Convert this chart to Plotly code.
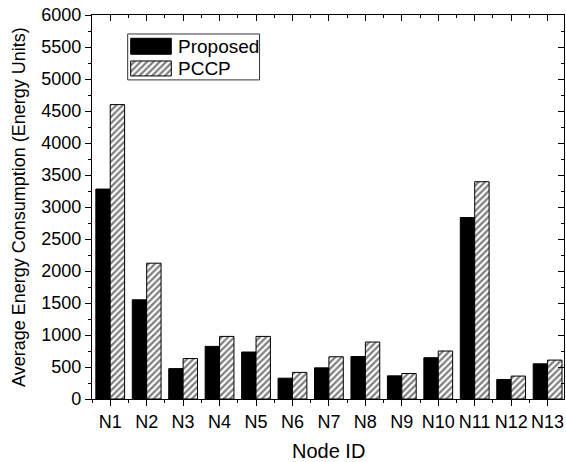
import plotly.graph_objects as go

# Per-node average energy consumption
nodes = ["N1", "N2", "N3", "N4", "N5", "N6", "N7", "N8", "N9", "N10", "N11", "N12", "N13"]
proposed = [3280, 1550, 475, 822, 734, 325, 487, 664, 362, 645, 2835, 305, 550]
pccp = [4600, 2122, 632, 978, 978, 416, 660, 890, 398, 750, 3395, 358, 608]

series_names = ["Proposed", "PCCP"]

FONT = "Liberation Sans, Arial, sans-serif"
positions = list(range(len(nodes)))
x_range = [-0.5, 12.45]
y_range = [0, 6000]
hatch = dict(shape="/", fgcolor="black", bgcolor="white", size=4.5, solidity=0.5)

fig = go.Figure()

fig.add_trace(go.Bar(
    x=positions, y=proposed, name=series_names[0],
    marker=dict(color="black", line=dict(color="black", width=1)),
    showlegend=False,
))
fig.add_trace(go.Bar(
    x=positions, y=pccp, name=series_names[1],
    marker=dict(color="white", line=dict(color="black", width=1), pattern=hatch),
    showlegend=False,
))

# empty trace so the mirrored top/right axes get drawn
fig.add_trace(go.Scatter(x=[], y=[], xaxis="x2", yaxis="y2", showlegend=False))

# hand-drawn legend on a unit overlay axis
sw_x0, sw_x1 = 0.082, 0.168
fig.add_trace(go.Scatter(
    x=[sw_x0, sw_x1, sw_x1, sw_x0, sw_x0], y=[0.8977, 0.8977, 0.9394, 0.9394, 0.8977],
    xaxis="x3", yaxis="y3", mode="lines", fill="toself", fillcolor="black",
    line=dict(color="black", width=1), showlegend=False, hoverinfo="skip",
))
fig.add_trace(go.Scatter(
    x=[sw_x0, sw_x1, sw_x1, sw_x0, sw_x0], y=[0.8413, 0.8413, 0.8803, 0.8803, 0.8413],
    xaxis="x3", yaxis="y3", mode="lines", fill="toself", fillcolor="white",
    fillpattern=hatch,
    line=dict(color="black", width=1), showlegend=False, hoverinfo="skip",
))

fig.add_shape(type="rect", xref="x3", yref="y3", x0=0.0756, x1=0.355, y0=0.831, y1=0.9506,
              line=dict(color="#333333", width=1), fillcolor="rgba(0,0,0,0)", layer="above")
for name, yc in zip(series_names, [0.9185, 0.8608]):
    fig.add_annotation(xref="x3", yref="y3", x=0.178, y=yc, text=name, showarrow=False,
                       xanchor="left", yanchor="middle",
                       font=dict(family=FONT, size=19, color="black"))

axis_common = dict(showgrid=False, zeroline=False, showline=True, linecolor="black",
                   linewidth=1.2, tickcolor="black", tickwidth=1.2)

fig.update_layout(
    width=566, height=462,
    margin=dict(l=92, r=2, t=15, b=63),
    paper_bgcolor="white", plot_bgcolor="white",
    barmode="group", bargap=0.21, bargroupgap=0,
    font=dict(family=FONT, size=18, color="black"),
    xaxis=dict(**axis_common, range=x_range, tickmode="array", tickvals=positions,
               ticktext=nodes, ticks="outside", ticklen=6,
               minor=dict(tickmode="linear", tick0=0.5, dtick=1, ticks="outside",
                          ticklen=3, tickcolor="black", tickwidth=1.2),
               tickfont=dict(family=FONT, size=18)),
    yaxis=dict(**axis_common, range=y_range, dtick=500, ticks="outside", ticklen=6,
               minor=dict(dtick=250, ticks="outside", ticklen=3,
                          tickcolor="black", tickwidth=1.2),
               tickfont=dict(family=FONT, size=18)),
    xaxis2=dict(**axis_common, overlaying="x", side="top", anchor="y2", range=x_range,
                tickmode="array", tickvals=positions, showticklabels=False,
                ticks="inside", ticklen=6,
                minor=dict(tickmode="linear", tick0=0.5, dtick=1, ticks="inside",
                           ticklen=3, tickcolor="black", tickwidth=1.2)),
    yaxis2=dict(**axis_common, overlaying="y", side="right", anchor="x2", range=y_range,
                dtick=500, showticklabels=False, ticks="inside", ticklen=6,
                minor=dict(dtick=250, ticks="inside", ticklen=3,
                           tickcolor="black", tickwidth=1.2)),
    xaxis3=dict(overlaying="x", range=[0, 1], visible=False, fixedrange=True),
    yaxis3=dict(overlaying="y", range=[0, 1], visible=False, fixedrange=True, anchor="x3"),
    showlegend=False,
)

fig.add_annotation(xref="paper", yref="paper", x=0.5, y=-0.1345, text="Node ID",
                   showarrow=False, xanchor="center", yanchor="middle",
                   font=dict(family=FONT, size=20))
fig.add_annotation(xref="paper", yref="paper", x=-0.1547, y=0.5,
                   text="Average Energy Consumption (Energy Units)", textangle=-90,
                   showarrow=False, xanchor="center", yanchor="middle",
                   font=dict(family=FONT, size=18))

fig.write_html("out.html")
